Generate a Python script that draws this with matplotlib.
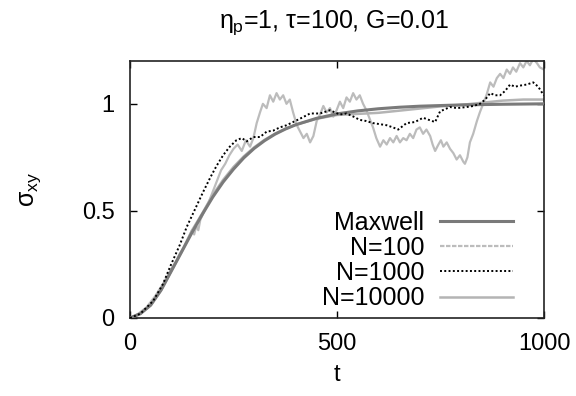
import matplotlib
matplotlib.use("Agg")
import matplotlib.pyplot as plt
from matplotlib.lines import Line2D

plt.rcParams['font.family'] = ['Liberation Sans', 'DejaVu Sans']
plt.rcParams['mathtext.fontset'] = 'custom'
plt.rcParams['mathtext.rm'] = 'Liberation Sans'
plt.rcParams['mathtext.it'] = 'Liberation Sans'
plt.rcParams['mathtext.bf'] = 'Liberation Sans'

# ---- data ----
t_maxwell = [0, 25, 50, 75, 100, 125, 150, 175, 200, 225, 250, 275, 300, 325, 350, 375,
             400, 450, 500, 550, 600, 650, 700, 800, 900, 1000]
s_maxwell = [0, 0.02, 0.06, 0.13, 0.22, 0.31, 0.40, 0.485, 0.565, 0.635, 0.695, 0.748,
             0.792, 0.828, 0.858, 0.882, 0.902, 0.932, 0.953, 0.967, 0.977, 0.984, 0.989,
             0.995, 0.998, 1.0]

t_n100 = [0, 20, 40, 60, 80, 100, 110, 120, 130, 140, 150, 155, 160, 165, 170, 180, 190,
          200, 210, 220, 230, 240, 250, 260, 270, 280, 290, 298, 306, 314, 321, 330, 338,
          346, 354, 362, 370, 378, 386, 394, 403, 411, 419, 427, 435, 443, 451, 459, 467,
          475, 483, 491, 499, 507, 515, 523, 531, 539, 547, 555, 563, 571, 579, 587, 595,
          604, 612, 620, 628, 636, 644, 652, 660, 668, 676, 684, 692, 700, 708, 716, 725,
          731, 737, 745, 751, 757, 765, 773, 781, 789, 797, 805, 809, 815, 821, 829, 838,
          845, 853, 861, 870, 878, 886, 894, 902, 910, 918, 925, 933, 942, 950, 958, 966,
          974, 983, 990, 1000]
s_n100 = [0, 0.02, 0.05, 0.10, 0.16, 0.23, 0.26, 0.30, 0.33, 0.37, 0.41, 0.39, 0.43, 0.41,
          0.46, 0.50, 0.54, 0.59, 0.64, 0.69, 0.72, 0.76, 0.79, 0.81, 0.78, 0.83, 0.80, 0.84,
          0.91, 0.96, 1.00, 0.98, 1.04, 1.01, 1.05, 1.02, 1.04, 1.00, 1.02, 0.96, 0.90, 0.87,
          0.84, 0.86, 0.82, 0.85, 0.92, 0.95, 0.99, 0.96, 0.98, 0.94, 0.97, 1.01, 0.98, 1.03,
          1.01, 1.05, 1.02, 1.04, 1.00, 0.97, 0.93, 0.89, 0.84, 0.80, 0.83, 0.81, 0.84, 0.82,
          0.85, 0.82, 0.84, 0.83, 0.86, 0.84, 0.88, 0.89, 0.86, 0.88, 0.85, 0.81, 0.78, 0.81,
          0.83, 0.80, 0.82, 0.79, 0.77, 0.74, 0.76, 0.73, 0.72, 0.75, 0.82, 0.86, 0.92, 0.96,
          1.00, 1.04, 1.10, 1.08, 1.12, 1.14, 1.12, 1.16, 1.14, 1.17, 1.15, 1.19, 1.17, 1.20,
          1.18, 1.21, 1.19, 1.17, 1.16]

t_n1000 = [0, 25, 56, 80, 97, 120, 137, 160, 177, 195, 209, 225, 241, 257, 270, 282, 298,
           314, 330, 346, 362, 378, 394, 410, 435, 459, 483, 507, 523, 540, 555, 570, 587,
           604, 620, 635, 648, 668, 688, 708, 722, 737, 749, 761, 773, 790, 813, 830, 845,
           858, 870, 882, 894, 906, 918, 930, 942, 958, 974, 986, 996, 1000]
s_n1000 = [0, 0.02, 0.08, 0.16, 0.24, 0.34, 0.425, 0.52, 0.59, 0.66, 0.71, 0.76, 0.80,
           0.83, 0.84, 0.825, 0.845, 0.845, 0.87, 0.875, 0.89, 0.90, 0.915, 0.93, 0.955,
           0.955, 0.97, 0.95, 0.955, 0.94, 0.925, 0.92, 0.91, 0.905, 0.90, 0.89, 0.88,
           0.91, 0.915, 0.935, 0.925, 0.915, 0.965, 0.975, 0.985, 0.98, 0.985, 0.99, 1.00,
           1.02, 1.05, 1.04, 1.04, 1.06, 1.09, 1.08, 1.085, 1.09, 1.10, 1.08, 1.05, 1.04]

t_n10000 = [0, 25, 50, 75, 100, 125, 150, 175, 200, 225, 250, 275, 300, 325, 350, 375,
            400, 450, 500, 550, 600, 650, 700, 750, 800, 850, 900, 950, 1000]
s_n10000 = [0, 0.02, 0.06, 0.13, 0.22, 0.31, 0.41, 0.49, 0.575, 0.645, 0.705, 0.755,
            0.797, 0.832, 0.86, 0.883, 0.902, 0.93, 0.948, 0.953, 0.958, 0.968, 0.978,
            0.988, 0.995, 1.005, 1.015, 1.02, 1.02]

labels = ['Maxwell', 'N=100', 'N=1000', 'N=10000']
x_ticks = [0, 500, 1000]
y_ticks = [0, 0.5, 1]
y_ticklabels = ['0', '0.5', '1']

# ---- figure ----
fig = plt.figure(figsize=(5.76, 3.96), dpi=100)
ax = fig.add_axes([130/576, 1-318/396, 414/576, 257/396])

c100, c10000, cmax = '#bcbcbc', '#b4b4b4', '#7a7a7a'
ax.plot(t_n100, s_n100, color=c100, lw=1.6)
ax.plot(t_n10000, s_n10000, color=c10000, lw=1.8)
ax.plot(t_maxwell, s_maxwell, color=cmax, lw=2.2, zorder=3)
ax.plot(t_n1000, s_n1000, color='black', lw=1.4, linestyle=(0, (1, 1.2)), zorder=4)

ax.set_xlim(0, 1000)
ax.set_ylim(0, 1.2)
ax.set_xticks(x_ticks)
ax.set_yticks(y_ticks)
ax.set_yticklabels(y_ticklabels)
ax.tick_params(direction='in', top=True, right=True, length=5, width=1,
               labelsize=17, pad=11)
for sp in ax.spines.values():
    sp.set_linewidth(1.2)
    sp.set_color('#222222')

ax.set_xlabel('t', fontsize=17, labelpad=6)
ax.set_ylabel(r'$\sigma_{xy}$', fontsize=18, labelpad=28)
fig.text(0.58, 1-23/396, r'$\eta_p$=1, $\tau$=100, G=0.01', fontsize=18,
         ha='center', va='center')

handles = [Line2D([], [], color=cmax, lw=2.2),
           Line2D([], [], color=c100, lw=1.6, linestyle=(0, (2, 0.7))),
           Line2D([], [], color='black', lw=1.4, linestyle=(0, (1, 1.2))),
           Line2D([], [], color=c10000, lw=1.8)]
leg = ax.legend(handles, labels, loc='lower right',
                bbox_to_anchor=(0.925, 0.03), frameon=False, markerfirst=False,
                fontsize=18, handlelength=2.9, handletextpad=0.65, labelspacing=0.05,
                borderpad=0, borderaxespad=0)
for col in leg._legend_handle_box.get_children():
    col.align = 'right'

fig.savefig('out.png', dpi=100)
